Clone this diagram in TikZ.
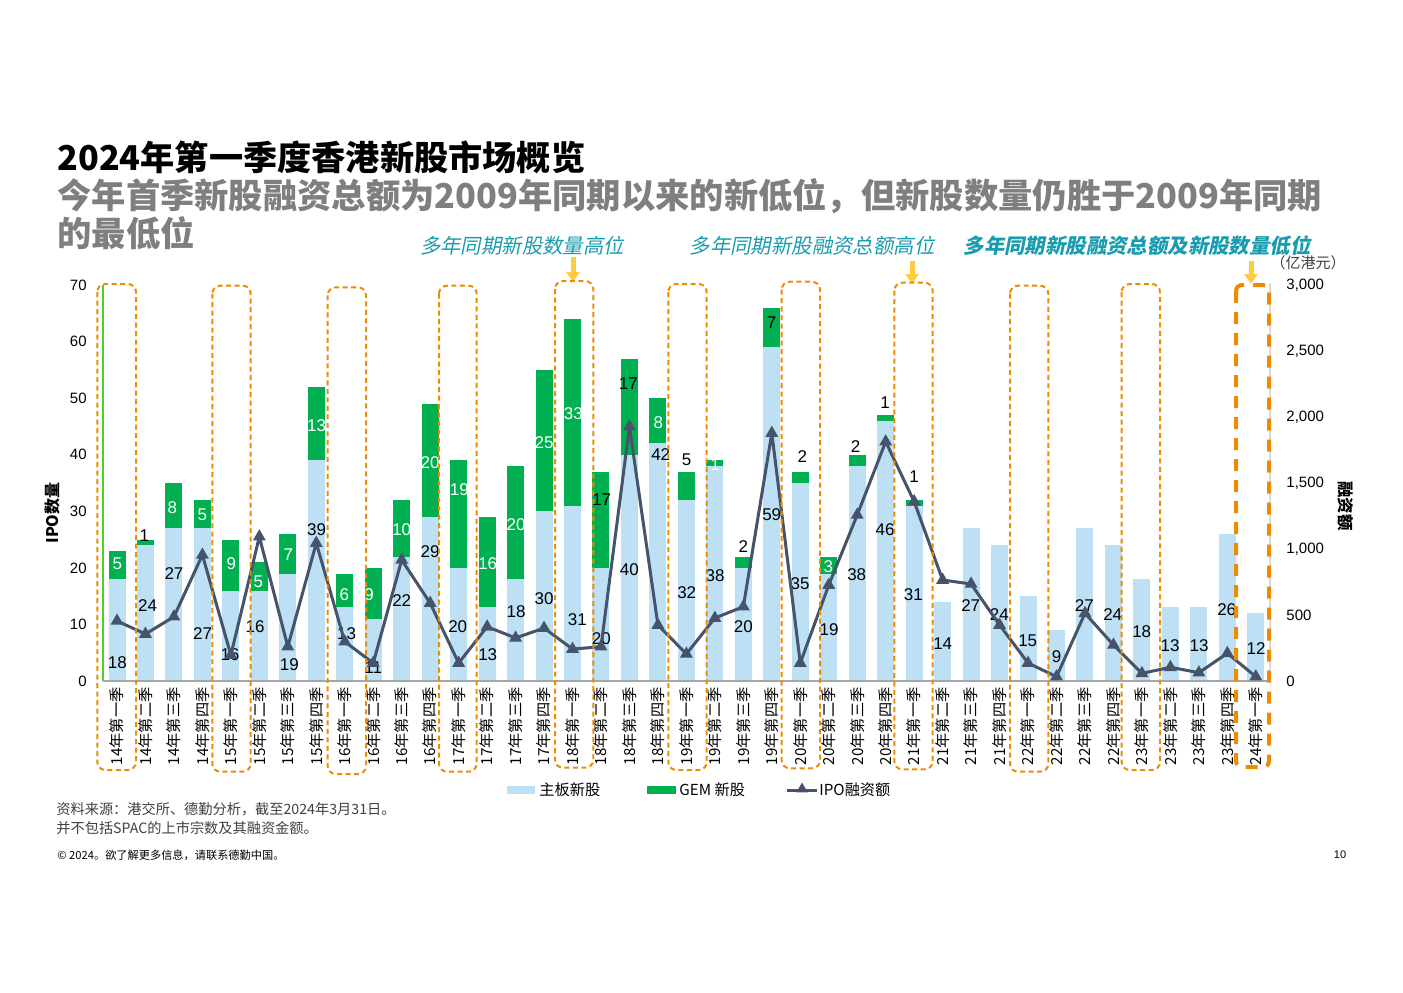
\documentclass[tikz,border=0pt]{standalone}
\usepackage{fontspec}
\setmainfont{Liberation Sans}
\newfontfamily\cjk{Noto Sans CJK SC}
\newfontfamily\cjkit[FakeSlant=0.2]{Noto Sans CJK SC}
\usetikzlibrary{shapes.geometric,arrows.meta}
\newcommand\myfs[1]{\fontsize{#1}{#1}\selectfont}
\definecolor{mainblue}{HTML}{BDE0F5}
\definecolor{gemgreen}{HTML}{00B050}
\definecolor{linec}{HTML}{46546B}
\definecolor{orangec}{HTML}{EE8B00}
\definecolor{tealc}{HTML}{1A9CAF}
\definecolor{arrowc}{HTML}{FFCC3F}
\definecolor{subgray}{HTML}{7F7F7F}
\definecolor{axisgray}{HTML}{A6A6A6}
\definecolor{footgray}{HTML}{404040}
\tikzset{
 dl/.style={font=\myfs{8.5}, inner sep=0pt},
 cat/.style={rotate=90, anchor=east, font=\cjk\myfs{7.6}, inner sep=0pt},
 qbox/.style={draw=orangec, line width=1pt, dash pattern=on 2.5pt off 1.75pt, rounded corners=4pt},
 qboxthick/.style={draw=orangec, line width=2pt, dash pattern=on 6pt off 4.5pt, rounded corners=3pt},
 tri/.style={regular polygon, regular polygon sides=3, fill=linec, minimum size=7.5pt, inner sep=0pt},
 yarrow/.style={draw=arrowc, line width=2.5pt, -{Triangle[width=6.5pt,length=5pt]}},
 ann/.style={text=tealc, font=\cjkit\myfs{10.2}, inner sep=0pt},
 ticklab/.style={font=\myfs{7.5}, inner sep=0pt},
 leg/.style={font=\cjk\myfs{7.6}, inner sep=0pt, anchor=west},
}
\begin{document}
\begin{tikzpicture}[x=0.5pt,y=-0.5pt]
\useasboundingbox (0,0) rectangle (1403,992);
\fill[white] (0,0) rectangle (1403,992);

% titles
\node[anchor=west, inner sep=0pt, font=\cjk\bfseries\myfs{17.1}] (title) at (57,157) {2024年第一季度香港新股市场概览};
\node[anchor=west, inner sep=0pt, text=subgray, font=\cjk\bfseries\myfs{17.15}] (sub1) at (57,196) {今年首季新股融资总额为2009年同期以来的新低位，但新股数量仍胜于2009年同期};
\node[anchor=west, inner sep=0pt, text=subgray, font=\cjk\bfseries\myfs{17.15}] (sub2) at (57,233) {的最低位};

% annotations
\node[ann] (ann1) at (522,246) {多年同期新股数量高位};
\node[ann] (ann2) at (812,246) {多年同期新股融资总额高位};
\node[ann, font=\cjkit\bfseries\myfs{10.2}] (ann3) at (1137,246) {多年同期新股融资总额及新股数量低位};
\coordinate (a1s) at (573,257); \coordinate (a1e) at (573,282);
\coordinate (a2s) at (912,261); \coordinate (a2e) at (912,284);
\coordinate (a3s) at (1251,261); \coordinate (a3e) at (1251,284);
\draw[yarrow] (a1s) -- (a1e);
\draw[yarrow] (a2s) -- (a2e);
\draw[yarrow] (a3s) -- (a3e);

% axes lines
\draw[draw=gemgreen!60!lime, line width=0.6pt] (103,285) -- (103,681);
\draw[draw=black!15, line width=0.8pt] (1270,283) -- (1270,681);

% bars
\foreach \i/\m/\g in {0/18/5,1/24/1,2/27/8,3/27/5,4/16/9,5/16/5,6/19/7,7/39/13,8/13/6,9/11/9,10/22/10,11/29/20,12/20/19,13/13/16,14/18/20,15/30/25,16/31/33,17/20/17,18/40/17,19/42/8,20/32/5,21/38/1,22/20/2,23/59/7,24/35/2,25/19/3,26/38/2,27/46/1,28/31/1,29/14/0,30/27/0,31/24/0,32/15/0,33/9/0,34/27/0,35/24/0,36/18/0,37/13/0,38/13/0,39/26/0,40/12/0}{
  \pgfmathsetmacro\xc{117+28.47*\i}
  \fill[mainblue] ({\xc-8.5},681) rectangle ({\xc+8.5},{681-\m*5.657});
  \ifnum\g>0
    \fill[gemgreen] ({\xc-8.5},{681-\m*5.657}) rectangle ({\xc+8.5},{681-(\m+\g)*5.657});
  \fi
}
\draw[draw=axisgray, line width=1pt] (103,681) -- (1270,681);

% tick labels
\foreach \k in {0,...,7}{
  \pgfmathtruncatemacro\val{10*\k}
  \node[ticklab, anchor=east] (lt\k) at (87,{681-\k*56.571}) {\val};
}
\node[ticklab, anchor=west] (rt0) at (1286,681) {0};
\node[ticklab, anchor=west] (rt1) at (1286,615) {500};
\node[ticklab, anchor=west] (rt2) at (1286,549) {1,000};
\node[ticklab, anchor=west] (rt3) at (1286,483) {1,500};
\node[ticklab, anchor=west] (rt4) at (1286,417) {2,000};
\node[ticklab, anchor=west] (rt5) at (1286,351) {2,500};
\node[ticklab, anchor=west] (rt6) at (1286,285) {3,000};
\node[inner sep=0pt, text=footgray, font=\cjk\myfs{7.5}] (unit) at (1308,263) {（亿港元）};
\node[inner sep=0pt, rotate=90, font=\cjk\bfseries\myfs{8}] (ylab) at (52,513) {IPO数量};
\node[inner sep=0pt, rotate=-90, font=\cjk\bfseries\myfs{8.2}] (y2lab) at (1346,506) {融资额};

% main board labels
\foreach \i/\x/\y/\t in {0/117.3/662.7/18,1/147.7/606/24,2/174/574/27,3/202.7/634/27,4/230/655/16,5/255/627/16,6/289.3/665/19,7/316.7/529.3/39,8/346.7/634/13,9/373.3/668/11,10/401.7/600.7/22,11/430/551.7/29,12/457.7/626.7/20,13/487.7/654.3/13,14/516/611.7/18,15/544/598.3/30,16/577.3/620/31,17/601.3/638.3/20,18/629.3/569.3/40,19/660.7/455/42,20/686.7/592.3/32,21/715/575.7/38,22/743.3/626.7/20,23/771.7/515/59,24/800/583.3/35,25/829/629.3/19,26/856.7/575/38,27/885/529.3/46,28/913.3/595/31,29/942.7/643.3/14,30/970.7/606/27,31/999.3/614.3/24,32/1027.7/640.7/15,33/1056.7/656.7/9,34/1084.3/606/27,35/1112.7/614.3/24,36/1141.7/631.7/18,37/1170/646/13,38/1199/646/13,39/1226.7/609.3/26,40/1256/648.3/12}{
  \node[dl] (ml\i) at (\x,\y) {\t};
}
% GEM labels
\foreach \i/\x/\y/\t/\c in {0/117.3/564/5/white,1/144.3/536/1/black,2/172.3/507.7/8/white,3/202.3/515/5/white,4/231.3/564/9/white,5/258.3/581.7/5/white,6/288.3/555/7/white,7/316.7/425.7/13/white,8/344.3/594.3/6/white,9/369/595/9/white,10/401.7/530/10/white,11/430/462.3/20/white,12/459.3/490/19/white,13/487.7/564/16/white,14/516/524.3/20/white,15/544/442.3/25/white,16/573.3/413.3/33/white,17/601.7/500/17/black,18/628.3/383.3/17/black,19/658.3/422.7/8/white,20/686.7/460/5/black,21/715/465/1/white,22/743.3/546.7/2/black,23/771.7/322.3/7/black,24/802.3/456.7/2/black,25/828.3/566.7/3/white,26/855.7/446.7/2/black,27/885/402.7/1/black,28/914/476.7/1/black}{
  \node[dl, text=\c] (gl\i) at (\x,\y) {\t};
}

% IPO amount line
\foreach \i/\v in {0/455,1/356,2/487,3/955,4/197,5/1093,6/260,7/1045,8/298,9/136,10/917,11/590,12/136,13/411,14/326,15/401,16/242,17/260,18/1927,19/424,20/205,21/477,22/563,23/1878,24/136,25/727,26/1258,27/1813,28/1359,29/765,30/735,31/424,32/136,33/33,34/513,35/273,36/58,37/104,38/63,39/210,40/33}{
  \coordinate (p\i) at ({117+28.47*\i},{681-\v*0.132});
}
\draw[linec, line width=1.5pt, line join=round] (p0) \foreach \i in {1,...,40}{ -- (p\i)};
\foreach \i in {0,...,40}{ \node[tri] (m\i) at (p\i) {}; }

% category labels
\foreach \yy [count=\yi from 0] in {14,...,23}{
  \foreach \q [count=\qi from 0] in {一,二,三,四}{
    \pgfmathtruncatemacro\idx{4*\yi+\qi}
    \node[cat] (c\idx) at ({117+28.47*\idx},687) {{\yy}年第{\q}季};
  }
}
\node[cat] (c40) at ({117+28.47*40},687) {24年第一季};

% dashed boxes
\draw[qbox] (97.3,284) rectangle (136,770);
\draw[qbox] (212.3,285.7) rectangle (250.7,771.7);
\draw[qbox] (327.7,287.3) rectangle (366,774);
\draw[qbox] (439,285.7) rectangle (476.7,771.7);
\draw[qbox] (555,281) rectangle (593.3,767.7);
\draw[qbox] (668.3,284) rectangle (706.7,770);
\draw[qbox] (781.7,281.7) rectangle (820,768.3);
\draw[qbox] (894.3,282.7) rectangle (932.7,769.3);
\draw[qbox] (1010,285.7) rectangle (1048.3,771.7);
\draw[qbox] (1121.7,284) rectangle (1160,770);
\draw[qboxthick] (1236,285) rectangle (1269,767);

% legend
\fill[mainblue] (507,786) rectangle (535,794);
\node[leg] (lg1) at (539,790) {主板新股};
\fill[gemgreen] (647,786) rectangle (676,794);
\node[leg] (lg2) at (679,790) {GEM 新股};
\draw[linec, line width=1.5pt] (787,790) -- (817,790);
\node[tri, minimum size=6.5pt] (lgm) at (802,789) {};
\node[leg] (lg3) at (819,790) {IPO融资额};

% footer
\node[anchor=west, inner sep=0pt, text=footgray, font=\cjk\myfs{7.1}] (f1) at (56,809) {资料来源：港交所、德勤分析，截至2024年3月31日。};
\node[anchor=west, inner sep=0pt, text=footgray, font=\cjk\myfs{7.1}] (f2) at (56,828) {并不包括SPAC的上市宗数及其融资金额。};
\node[anchor=west, inner sep=0pt, font=\cjk\myfs{5.6}] (f3) at (57,855) {© 2024。欲了解更多信息，请联系德勤中国。};
\node[inner sep=0pt, font=\myfs{5.5}] (pg) at (1340,855) {10};
\end{tikzpicture}
\end{document}
